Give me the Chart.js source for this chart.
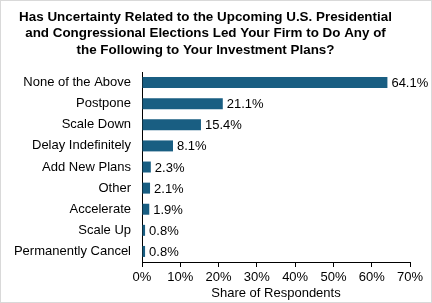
<!DOCTYPE html>
<html>
<head>
<meta charset="utf-8">
<script src="https://cdn.jsdelivr.net/npm/chart.js@4.4.0/dist/chart.umd.min.js"></script>
<style>
  html, body { margin: 0; padding: 0; background: #fff; }
  #wrap { width: 432px; height: 303px; box-sizing: border-box; border: 1px solid #d9d9d9; }
  canvas { display: block; }
</style>
</head>
<body>
<div id="wrap"><canvas id="chart" width="430" height="301"></canvas></div>
<script>
// categories + values
const categories = ['None of the Above', 'Postpone', 'Scale Down', 'Delay Indefinitely', 'Add New Plans', 'Other', 'Accelerate', 'Scale Up', 'Permanently Cancel'];
const shares = [64.1, 21.1, 15.4, 8.1, 2.3, 2.1, 1.9, 0.8, 0.8];
const xTicks = [0, 10, 20, 30, 40, 50, 60, 70];

const FONT = '"Liberation Sans", Arial, sans-serif';
const BAR_COLOR = '#195e82';

// value labels at the end of each bar
const barLabels = {
  id: 'barLabels',
  afterDatasetsDraw(chart) {
    const ctx = chart.ctx;
    const meta = chart.getDatasetMeta(0);
    ctx.save();
    ctx.font = '13px ' + FONT;
    ctx.fillStyle = '#000';
    ctx.textAlign = 'left';
    ctx.textBaseline = 'middle';
    meta.data.forEach((bar, i) => {
      ctx.fillText(shares[i].toFixed(1) + '%', bar.x + 4, bar.y + 1);
    });
    ctx.restore();
  }
};

new Chart(document.getElementById('chart'), {
  type: 'bar',
  data: {
    labels: categories,
    datasets: [{
      data: shares,
      backgroundColor: BAR_COLOR,
      categoryPercentage: 1,
      barPercentage: 0.52
    }]
  },
  options: {
    indexAxis: 'y',
    responsive: false,
    animation: false,
    layout: { padding: { left: 0, right: 21, top: 0, bottom: 0 } },
    plugins: {
      legend: { display: false },
      tooltip: { enabled: false },
      title: {
        display: true,
        text: ['Has Uncertainty Related to the Upcoming U.S. Presidential',
               'and Congressional Elections Led Your Firm to Do Any of',
               'the Following to Your Investment Plans?'],
        color: '#000',
        font: { family: FONT, size: 13.4, weight: 'bold', lineHeight: 1.22 },
        padding: { top: 8, bottom: 14 }
      }
    },
    scales: {
      x: {
        min: 0,
        max: 70,
        afterBuildTicks: s => { s.ticks = xTicks.map(v => ({ value: v })); },
        afterFit: s => { s.height = 40; },
        ticks: {
          color: '#000',
          font: { family: FONT, size: 13 },
          padding: 3,
          maxRotation: 0,
          callback: v => v + '%'
        },
        grid: { display: true, drawOnChartArea: false, drawTicks: true, tickLength: 5, color: '#000' },
        border: { display: true, color: '#000' },
        title: {
          display: true,
          text: 'Share of Respondents',
          color: '#000',
          font: { family: FONT, size: 13 },
          padding: { top: 0, bottom: 1 }
        }
      },
      y: {
        afterFit: s => { s.width = 141; },
        ticks: {
          color: '#000',
          font: { family: FONT, size: 13 },
          padding: 11
        },
        grid: { display: true, drawOnChartArea: false, drawTicks: false, color: '#000' },
        border: { display: true, color: '#000' }
      }
    }
  },
  plugins: [barLabels]
});
</script>
</body>
</html>
